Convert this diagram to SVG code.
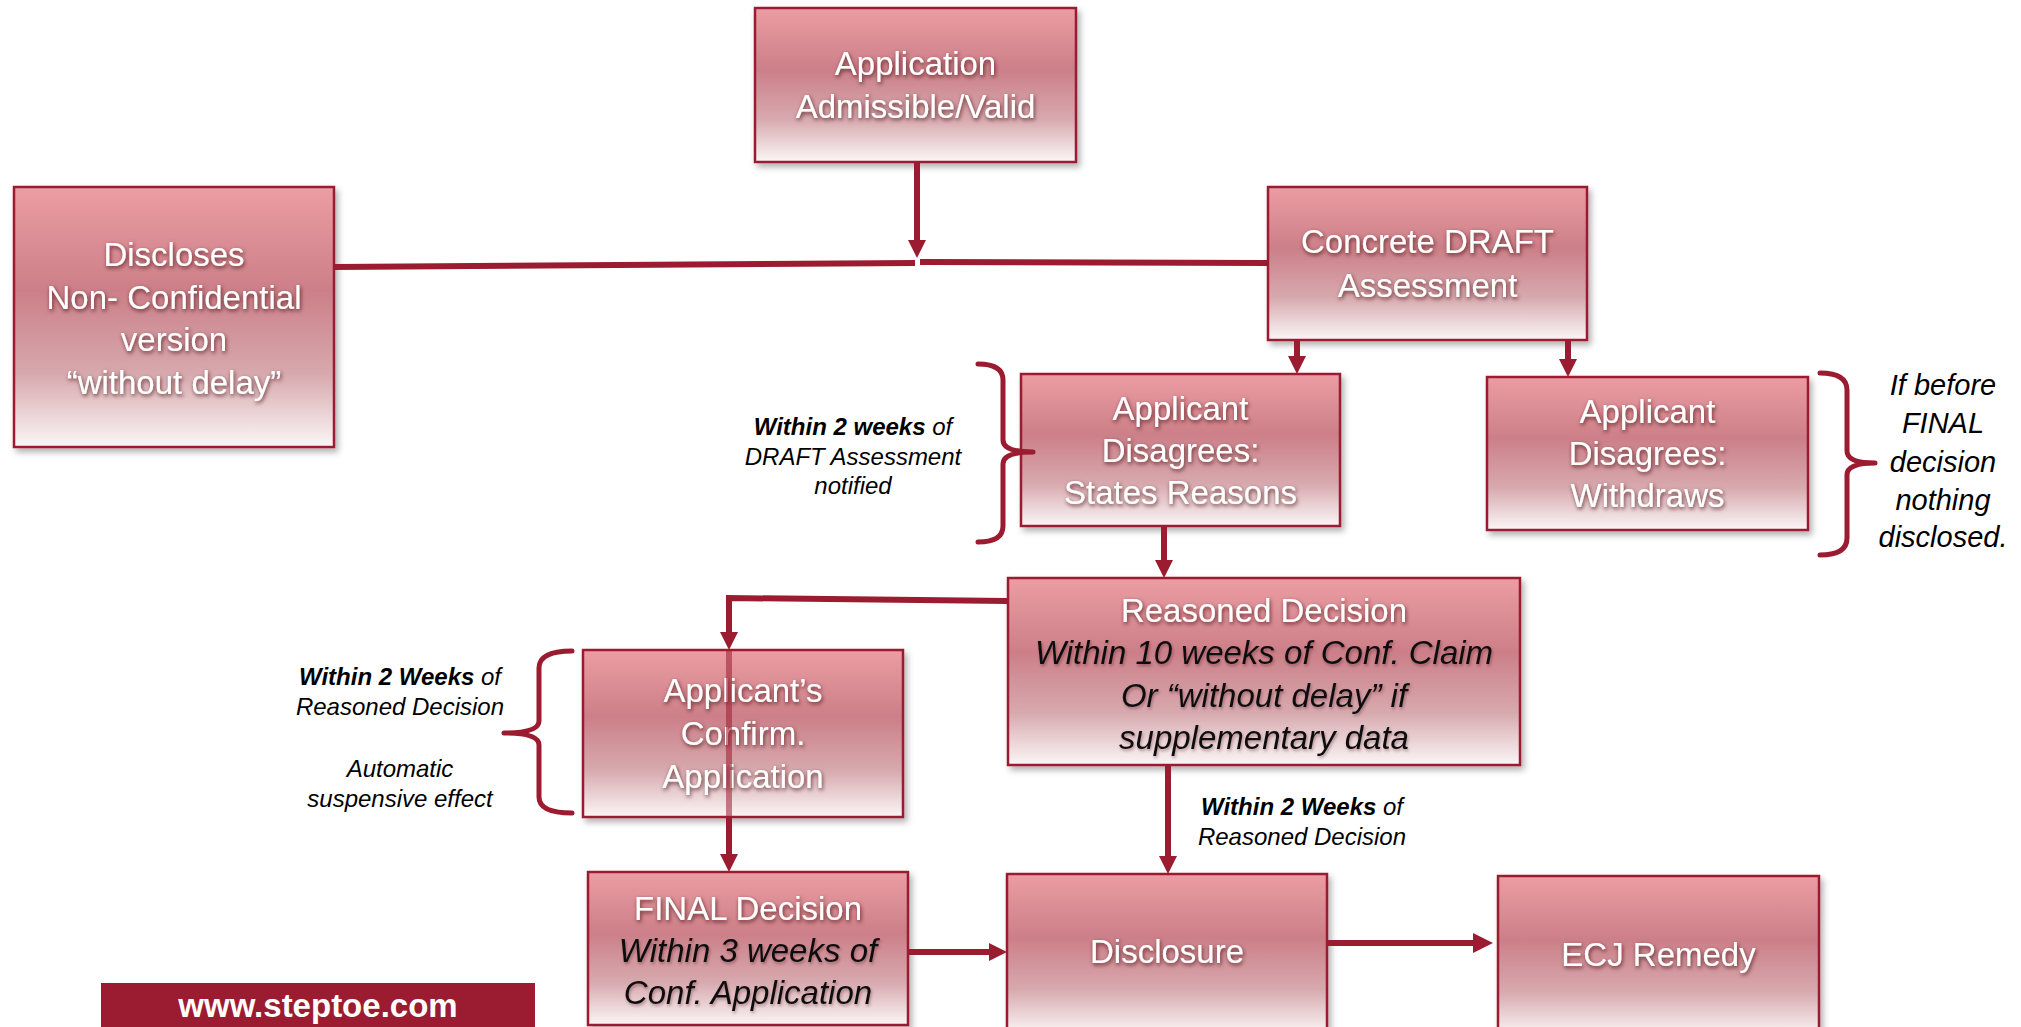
<svg xmlns="http://www.w3.org/2000/svg" width="2021" height="1027" viewBox="0 0 2021 1027">
<defs>
<linearGradient id="boxg" x1="0" y1="0" x2="0" y2="1">
<stop offset="0" stop-color="#ec9da3"/>
<stop offset="0.4" stop-color="#cc7f88"/>
<stop offset="0.72" stop-color="#d7a9ae"/>
<stop offset="1" stop-color="#fbf6f6"/>
</linearGradient>
<filter id="boxsh" x="-10%" y="-10%" width="125%" height="130%">
<feDropShadow dx="3" dy="4" stdDeviation="3" flood-color="#000" flood-opacity="0.3"/>
</filter>
<filter id="wsh" x="-10%" y="-30%" width="120%" height="170%">
<feDropShadow dx="1" dy="2" stdDeviation="2.2" flood-color="#3a0a12" flood-opacity="0.75"/>
</filter>
<filter id="bsh" x="-10%" y="-30%" width="120%" height="170%">
<feDropShadow dx="1" dy="2" stdDeviation="1.5" flood-color="#3a0a12" flood-opacity="0.35"/>
</filter>
<marker id="ah" markerUnits="userSpaceOnUse" markerWidth="18" markerHeight="18" refX="10" refY="9" orient="auto">
<path d="M0,0 L18,9 L0,18 z" fill="#9b1b30"/>
</marker>
<marker id="ahb" markerUnits="userSpaceOnUse" markerWidth="20" markerHeight="20" refX="12" refY="10" orient="auto">
<path d="M0,0 L20,10 L0,20 z" fill="#9b1b30"/>
</marker>
</defs>
<style>
.box{fill:url(#boxg);stroke:#9b1b30;stroke-width:2.5;filter:url(#boxsh)}
.wt{font-family:"Liberation Sans",Arial,sans-serif;font-size:33px;fill:#ffffff;text-anchor:middle;filter:url(#wsh)}
.bt{font-family:"Liberation Sans",Arial,sans-serif;font-size:33px;font-style:italic;fill:#111111;text-anchor:middle;filter:url(#bsh)}
.note{font-family:"Liberation Sans",Arial,sans-serif;font-size:24px;font-style:italic;fill:#000;text-anchor:middle}
.note29{font-family:"Liberation Sans",Arial,sans-serif;font-size:29px;font-style:italic;fill:#000;text-anchor:middle}
.b{font-weight:bold}
.con{fill:none;stroke:#9b1b30;stroke-width:6}
.brace{fill:none;stroke:#9b1b30;stroke-width:5;stroke-linecap:round;stroke-linejoin:round}
</style>
<rect width="2021" height="1027" fill="#ffffff"/>

<g id="n-app"><rect class="box" x="755" y="8" width="321" height="154"/>
<text class="wt" x="915.5" y="75">Application</text><text class="wt" x="915.5" y="118">Admissible/Valid</text></g>

<g id="n-disc"><rect class="box" x="14" y="187" width="320" height="260"/>
<text class="wt" x="174" y="266">Discloses</text><text class="wt" x="174" y="309">Non- Confidential</text><text class="wt" x="174" y="351">version</text><text class="wt" x="174" y="394">“without delay”</text></g>

<g id="n-concrete"><rect class="box" x="1268" y="187" width="319" height="153"/>
<text class="wt" x="1427.5" y="253">Concrete DRAFT</text><text class="wt" x="1427.5" y="297">Assessment</text></g>

<g id="n-states"><rect class="box" x="1021" y="374" width="319" height="152"/>
<text class="wt" x="1180.5" y="420">Applicant</text><text class="wt" x="1180.5" y="462">Disagrees:</text><text class="wt" x="1180.5" y="504">States Reasons</text></g>

<g id="n-withdraws"><rect class="box" x="1487" y="377" width="321" height="153"/>
<text class="wt" x="1647.5" y="423">Applicant</text><text class="wt" x="1647.5" y="465">Disagrees:</text><text class="wt" x="1647.5" y="507">Withdraws</text></g>

<g id="n-reasoned"><rect class="box" x="1008" y="578" width="512" height="187"/>
<text class="wt" x="1264" y="622">Reasoned Decision</text>
<text class="bt" x="1264" y="664">Within 10 weeks of Conf. Claim</text>
<text class="bt" x="1264" y="707">Or “without delay” if</text>
<text class="bt" x="1264" y="749">supplementary data</text></g>

<g id="n-confirm"><rect class="box" x="583" y="650" width="320" height="167"/>
<text class="wt" x="743" y="702">Applicant’s</text><text class="wt" x="743" y="745">Confirm.</text><text class="wt" x="743" y="788">Application</text></g>

<g id="n-final"><rect class="box" x="588" y="872" width="320" height="153"/>
<text class="wt" x="748" y="920">FINAL Decision</text>
<text class="bt" x="748" y="962">Within 3 weeks of</text>
<text class="bt" x="748" y="1004">Conf. Application</text></g>

<g id="n-disclosure"><rect class="box" x="1007" y="874" width="320" height="160"/>
<text class="wt" x="1167" y="963">Disclosure</text></g>

<g id="n-ecj"><rect class="box" x="1498" y="876" width="321" height="160"/>
<text class="wt" x="1658.5" y="966">ECJ Remedy</text></g>

<g id="connectors">
<path class="con" d="M917,162 L917,250" marker-end="url(#ah)"/>
<path class="con" d="M334,267 L915,263"/>
<path class="con" d="M920,262 L1268,263"/>
<path class="con" d="M1297,340 L1297,366" marker-end="url(#ah)"/>
<path class="con" d="M1568,340 L1568,369" marker-end="url(#ah)"/>
<path class="con" d="M1164,526 L1164,570" marker-end="url(#ah)"/>
<path class="con" d="M1008,601 L729,598 L729,642" marker-end="url(#ah)"/>
<path class="con" d="M729,651 L729,817" stroke-opacity="0.55"/>
<path class="con" d="M729,817 L729,864" marker-end="url(#ah)"/>
<path class="con" d="M908,952 L999,952" marker-end="url(#ah)"/>
<path class="con" d="M1168,765 L1168,866" marker-end="url(#ah)"/>
<path class="con" d="M1327,943 L1485,943" stroke-width="7" marker-end="url(#ahb)"/>
</g>

<g id="braces">
<path class="brace" d="M978,364 Q1003,364 1003,380 L1003,440 Q1003,452 1033,452 Q1003,452 1003,464 L1003,526 Q1003,542 978,542"/>
<path class="brace" d="M1820,373 Q1847,373 1847,390 L1847,451 Q1847,463 1875,463 Q1847,463 1847,475 L1847,538 Q1847,555 1820,555"/>
<path class="brace" d="M572,651 Q539,651 539,668 L539,721 Q539,733 504,733 Q539,733 539,745 L539,797 Q539,813 572,813"/>
</g>

<g id="notes">
<text class="note" x="853" y="435"><tspan class="b">Within 2 weeks</tspan> of</text>
<text class="note" x="853" y="465">DRAFT Assessment</text>
<text class="note" x="853" y="494">notified</text>
<text class="note" x="400" y="685"><tspan class="b">Within 2 Weeks</tspan> of</text>
<text class="note" x="400" y="715">Reasoned Decision</text>
<text class="note" x="400" y="777">Automatic</text>
<text class="note" x="400" y="807">suspensive effect</text>
<text class="note" x="1302" y="815"><tspan class="b">Within 2 Weeks</tspan> of</text>
<text class="note" x="1302" y="845">Reasoned Decision</text>
<text class="note29" x="1943" y="395">If before</text>
<text class="note29" x="1943" y="433">FINAL</text>
<text class="note29" x="1943" y="472">decision</text>
<text class="note29" x="1943" y="510">nothing</text>
<text class="note29" x="1943" y="547">disclosed.</text>
</g>

<g id="footer">
<rect x="101" y="983" width="434" height="50" fill="#9b1b30"/>
<text x="318" y="1017" font-family="Liberation Sans, Arial, sans-serif" font-size="33" font-weight="bold" fill="#ffffff" text-anchor="middle">www.steptoe.com</text>
</g>
</svg>
